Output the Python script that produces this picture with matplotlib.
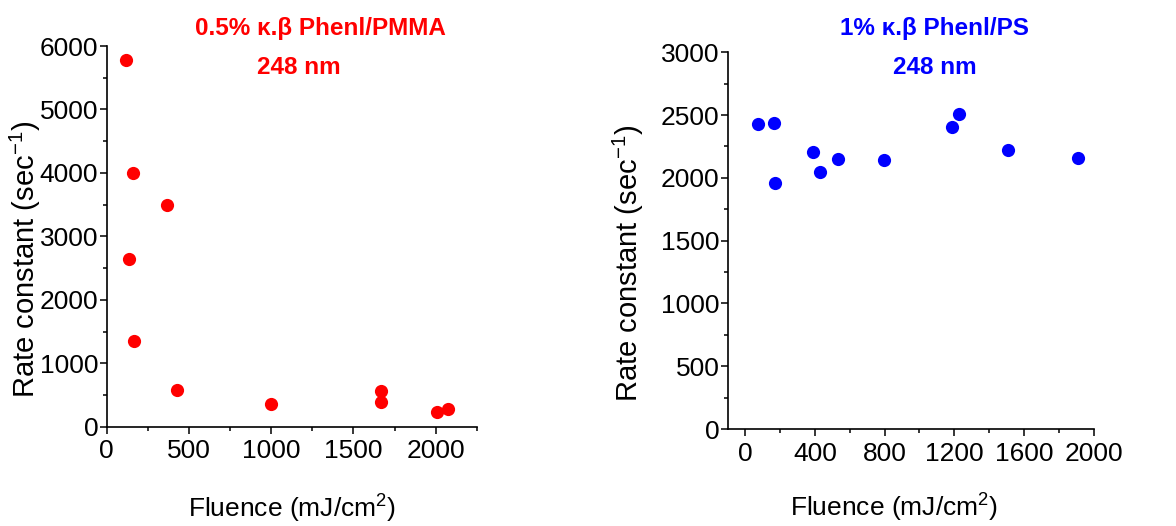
import numpy as np
import matplotlib
matplotlib.use("Agg")
import matplotlib.pyplot as plt
from matplotlib.ticker import MultipleLocator

plt.rcParams['font.family'] = ['Liberation Sans', 'DejaVu Sans']
plt.rcParams['mathtext.fontset'] = 'custom'
plt.rcParams['mathtext.rm'] = 'Liberation Sans'
plt.rcParams['mathtext.it'] = 'Liberation Sans:italic'

# 0.5% k.b Phenl / PMMA, 248 nm
pmma_fluence = [117, 158, 365, 138, 164, 430, 1000, 1668, 1665, 2007, 2078]
pmma_rate = [5775, 4000, 3490, 2650, 1345, 580, 350, 555, 385, 225, 280]

# 1% k.b Phenl / PS, 248 nm
ps_fluence = [72, 168, 174, 388, 429, 534, 799, 1186, 1226, 1511, 1912]
ps_rate = [2428, 2439, 1959, 2208, 2049, 2150, 2139, 2407, 2508, 2219, 2160]

red = '#ff0000'
blue = '#0000ff'

fig = plt.figure(figsize=(11.76, 5.26), dpi=100)

ax1 = fig.add_axes([0.0907, 0.1888, 0.3147, 0.7237])
ax2 = fig.add_axes([0.6188, 0.1844, 0.3112, 0.7162])

ax1.plot(pmma_fluence, pmma_rate, 'o', color=red, markersize=9.5, markeredgewidth=0)
ax2.plot(ps_fluence, ps_rate, 'o', color=blue, markersize=9.5, markeredgewidth=0)

ax1.set_xlim(0, 2250)
ax1.set_ylim(0, 6000)
ax1.xaxis.set_major_locator(MultipleLocator(500))
ax1.xaxis.set_minor_locator(MultipleLocator(250))
ax1.yaxis.set_major_locator(MultipleLocator(1000))
ax1.yaxis.set_minor_locator(MultipleLocator(500))

ax2.set_xlim(-100, 2000)
ax2.set_ylim(0, 3000)
ax2.xaxis.set_major_locator(MultipleLocator(400))
ax2.xaxis.set_minor_locator(MultipleLocator(200))
ax2.yaxis.set_major_locator(MultipleLocator(500))
ax2.yaxis.set_minor_locator(MultipleLocator(250))

for ax in (ax1, ax2):
    ax.spines['top'].set_visible(False)
    ax.spines['right'].set_visible(False)
    ax.spines['left'].set_linewidth(1.2)
    ax.spines['bottom'].set_linewidth(1.2)
    ax.tick_params(which='major', direction='out', length=5, width=1.1,
                   labelsize=19, pad=4)
    ax.tick_params(which='minor', direction='out', length=3, width=1.1)
    ax.tick_params(axis='y', which='major', pad=1)
    ax.set_xlabel(r'Fluence (mJ/cm$^{\mathregular{2}}$)', fontsize=19,
                  va='center')
    ax.set_ylabel(r'Rate constant (sec$^{\mathregular{-1}}$)', fontsize=21,
                  va='center')

ax1.xaxis.set_label_coords(0.50, -0.215)
ax1.yaxis.set_label_coords(-0.22, 0.44)
ax2.xaxis.set_label_coords(0.454, -0.209)
ax2.yaxis.set_label_coords(-0.27, 0.44)

# titles
fig.text(320 / 1176, 1 - 29 / 526, '0.5% κ.β Phenl/PMMA', color=red,
         fontsize=17.5, fontweight='bold', ha='center', va='center')
fig.text(299 / 1176, 1 - 67 / 526, '248 nm', color=red,
         fontsize=17.5, fontweight='bold', ha='center', va='center')
fig.text(934 / 1176, 1 - 29 / 526, '1% κ.β Phenl/PS', color=blue,
         fontsize=17.5, fontweight='bold', ha='center', va='center')
fig.text(935 / 1176, 1 - 67 / 526, '248 nm', color=blue,
         fontsize=17.5, fontweight='bold', ha='center', va='center')

plt.savefig('out.png', dpi=100)
